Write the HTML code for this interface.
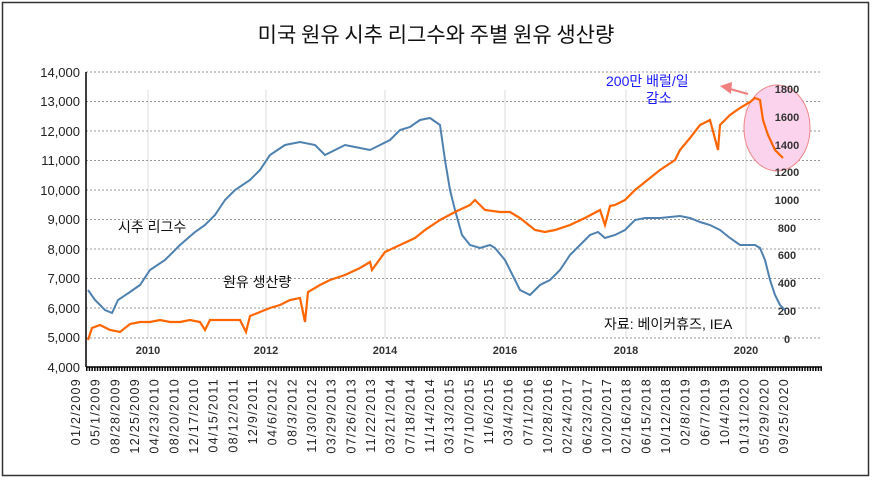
<!DOCTYPE html>
<html><head><meta charset="utf-8"><style>
body{margin:0;background:#fff;}
svg{display:block;font-family:"Liberation Sans","Noto Sans CJK KR",sans-serif;}
</style></head><body>
<svg width="872" height="478" viewBox="0 0 872 478">
<rect x="2.5" y="2.5" width="866" height="473" fill="#fff" stroke="#333" stroke-width="1.5"/>
<text x="436" y="42" font-size="21" text-anchor="middle" fill="#111" font-family="Noto Sans CJK KR, sans-serif">미국 원유 시추 리그수와 주별 원유  생산량</text>
<g stroke="#ddd" stroke-width="1">
<line x1="148" y1="90" x2="148" y2="338"/><line x1="266" y1="90" x2="266" y2="338"/><line x1="385" y1="90" x2="385" y2="338"/><line x1="505" y1="90" x2="505" y2="338"/><line x1="626" y1="90" x2="626" y2="338"/><line x1="746" y1="90" x2="746" y2="338"/>
</g>
<g stroke="#999" stroke-dasharray="2,2" stroke-width="1">
<line x1="86" y1="72" x2="822" y2="72"/><line x1="86" y1="101.5" x2="822" y2="101.5"/><line x1="86" y1="131" x2="822" y2="131"/><line x1="86" y1="160.5" x2="822" y2="160.5"/><line x1="86" y1="190" x2="822" y2="190"/><line x1="86" y1="219.5" x2="822" y2="219.5"/><line x1="86" y1="249" x2="822" y2="249"/><line x1="86" y1="278.5" x2="822" y2="278.5"/><line x1="86" y1="308" x2="822" y2="308"/><line x1="86" y1="338" x2="822" y2="338"/>
</g>
<g stroke="#000" stroke-width="1.5"><line x1="86" y1="72" x2="86" y2="367"/><line x1="86" y1="367" x2="822" y2="367"/></g>
<line x1="86" y1="369" x2="822" y2="369" stroke="#000" stroke-width="4" stroke-dasharray="1.5,1.2"/>
<g font-size="13" text-anchor="end" fill="#222">
<text x="80" y="77">14,000</text><text x="80" y="106">13,000</text><text x="80" y="136">12,000</text><text x="80" y="165">11,000</text><text x="80" y="195">10,000</text><text x="80" y="224">9,000</text><text x="80" y="254">8,000</text><text x="80" y="283">7,000</text><text x="80" y="313">6,000</text><text x="80" y="342">5,000</text><text x="80" y="372">4,000</text>
</g>
<g font-size="11" fill="#333" text-anchor="middle" font-weight="bold">
<text x="148" y="354">2010</text><text x="266" y="354">2012</text><text x="385" y="354">2014</text><text x="505" y="354">2016</text><text x="626" y="354">2018</text><text x="746" y="354">2020</text>
</g>
<ellipse cx="777" cy="128" rx="33" ry="43" fill="#fbd3ec" stroke="#e88" stroke-width="1"/>
<g font-size="11" fill="#333" text-anchor="middle" font-weight="bold">
<text x="787" y="93">1800</text><text x="787" y="121">1600</text><text x="787" y="149">1400</text><text x="787" y="176">1200</text><text x="787" y="204">1000</text><text x="787" y="232">800</text><text x="787" y="259">600</text><text x="787" y="287">400</text><text x="787" y="315">200</text><text x="787" y="343">0</text>
</g>
<polyline fill="none" stroke="#4f81b0" stroke-width="2" points="88,290 95,300 105,310 112,313 118,300 130,292 140,285 150,270 165,260 180,245 195,232 205,225 215,215 225,200 235,190 250,180 260,170 270,155 285,145 300,142 315,145 325,155 335,150 345,145 355,147 370,150 380,145 390,140 400,130 410,127 420,120 430,118 440,125 445,160 450,190 455,210 462,235 470,245 480,248 490,245 495,248 505,260 515,280 520,290 530,295 540,285 550,280 560,270 570,255 580,245 590,235 598,232 605,238 615,235 625,230 635,220 645,218 660,218 680,216 690,218 700,222 710,225 720,230 730,238 740,245 755,245 760,248 765,260 770,280 775,295 780,305 785,310"/>
<polyline fill="none" stroke="#ff6600" stroke-width="2.2" points="88,340 92,328 100,325 110,330 120,332 130,324 140,322 150,322 160,320 170,322 180,322 190,320 200,322 205,330 210,320 220,320 230,320 240,320 246,332 250,316 260,312 270,308 280,305 290,300 300,298 305,322 308,292 320,285 330,280 345,275 360,268 370,262 372,270 385,252 400,245 415,238 425,230 440,220 455,212 470,205 475,200 485,210 500,212 510,212 520,218 535,230 545,232 555,230 570,225 585,218 600,210 605,225 610,206 615,205 625,200 635,190 650,178 660,170 675,160 680,150 690,138 700,125 710,120 718,150 720,125 730,115 740,108 750,102 755,98 760,100 763,120 768,135 775,150 783,158"/>
<line x1="748" y1="94" x2="730" y2="89" stroke="#f08080" stroke-width="2"/>
<polygon points="720,86 732,82 731,94" fill="#f08080"/>
<text x="606" y="86" font-size="14" fill="#1a1aff">200만 배럴/일</text>
<text x="646" y="103" font-size="14" fill="#1a1aff">감소</text>
<text x="118" y="232" font-size="14" fill="#111">시추 리그수</text>
<text x="223" y="287" font-size="14" fill="#111">원유 생산량</text>
<text x="604" y="329" font-size="14" fill="#111">자료: 베이커휴즈, IEA</text>
<g font-size="12.5" fill="#222" text-anchor="end" letter-spacing="1.3">
<text transform="translate(80,378) rotate(-90)">01/2/2009</text>
<text transform="translate(99.7,378) rotate(-90)">05/1/2009</text>
<text transform="translate(119.3,378) rotate(-90)">08/28/2009</text>
<text transform="translate(139,378) rotate(-90)">12/25/2009</text>
<text transform="translate(158.7,378) rotate(-90)">04/23/2010</text>
<text transform="translate(178.3,378) rotate(-90)">08/20/2010</text>
<text transform="translate(198,378) rotate(-90)">12/17/2010</text>
<text transform="translate(217.7,378) rotate(-90)">04/15/2011</text>
<text transform="translate(237.3,378) rotate(-90)">08/12/2011</text>
<text transform="translate(257,378) rotate(-90)">12/9/2011</text>
<text transform="translate(276.7,378) rotate(-90)">04/6/2012</text>
<text transform="translate(296.3,378) rotate(-90)">08/3/2012</text>
<text transform="translate(316,378) rotate(-90)">11/30/2012</text>
<text transform="translate(335.7,378) rotate(-90)">03/29/2013</text>
<text transform="translate(355.3,378) rotate(-90)">07/26/2013</text>
<text transform="translate(375,378) rotate(-90)">11/22/2013</text>
<text transform="translate(394.7,378) rotate(-90)">03/21/2014</text>
<text transform="translate(414.3,378) rotate(-90)">07/18/2014</text>
<text transform="translate(434,378) rotate(-90)">11/14/2014</text>
<text transform="translate(453.7,378) rotate(-90)">03/13/2015</text>
<text transform="translate(473.3,378) rotate(-90)">07/10/2015</text>
<text transform="translate(493,378) rotate(-90)">11/6/2015</text>
<text transform="translate(512.7,378) rotate(-90)">03/4/2016</text>
<text transform="translate(532.3,378) rotate(-90)">07/1/2016</text>
<text transform="translate(552,378) rotate(-90)">10/28/2016</text>
<text transform="translate(571.7,378) rotate(-90)">02/24/2017</text>
<text transform="translate(591.3,378) rotate(-90)">06/23/2017</text>
<text transform="translate(611,378) rotate(-90)">10/20/2017</text>
<text transform="translate(630.7,378) rotate(-90)">02/16/2018</text>
<text transform="translate(650.3,378) rotate(-90)">06/15/2018</text>
<text transform="translate(670,378) rotate(-90)">10/12/2018</text>
<text transform="translate(689.7,378) rotate(-90)">02/8/2019</text>
<text transform="translate(709.3,378) rotate(-90)">06/7/2019</text>
<text transform="translate(729,378) rotate(-90)">10/4/2019</text>
<text transform="translate(748.7,378) rotate(-90)">01/31/2020</text>
<text transform="translate(768.3,378) rotate(-90)">05/29/2020</text>
<text transform="translate(788,378) rotate(-90)">09/25/2020</text>
</g>
</svg>
</body></html>
